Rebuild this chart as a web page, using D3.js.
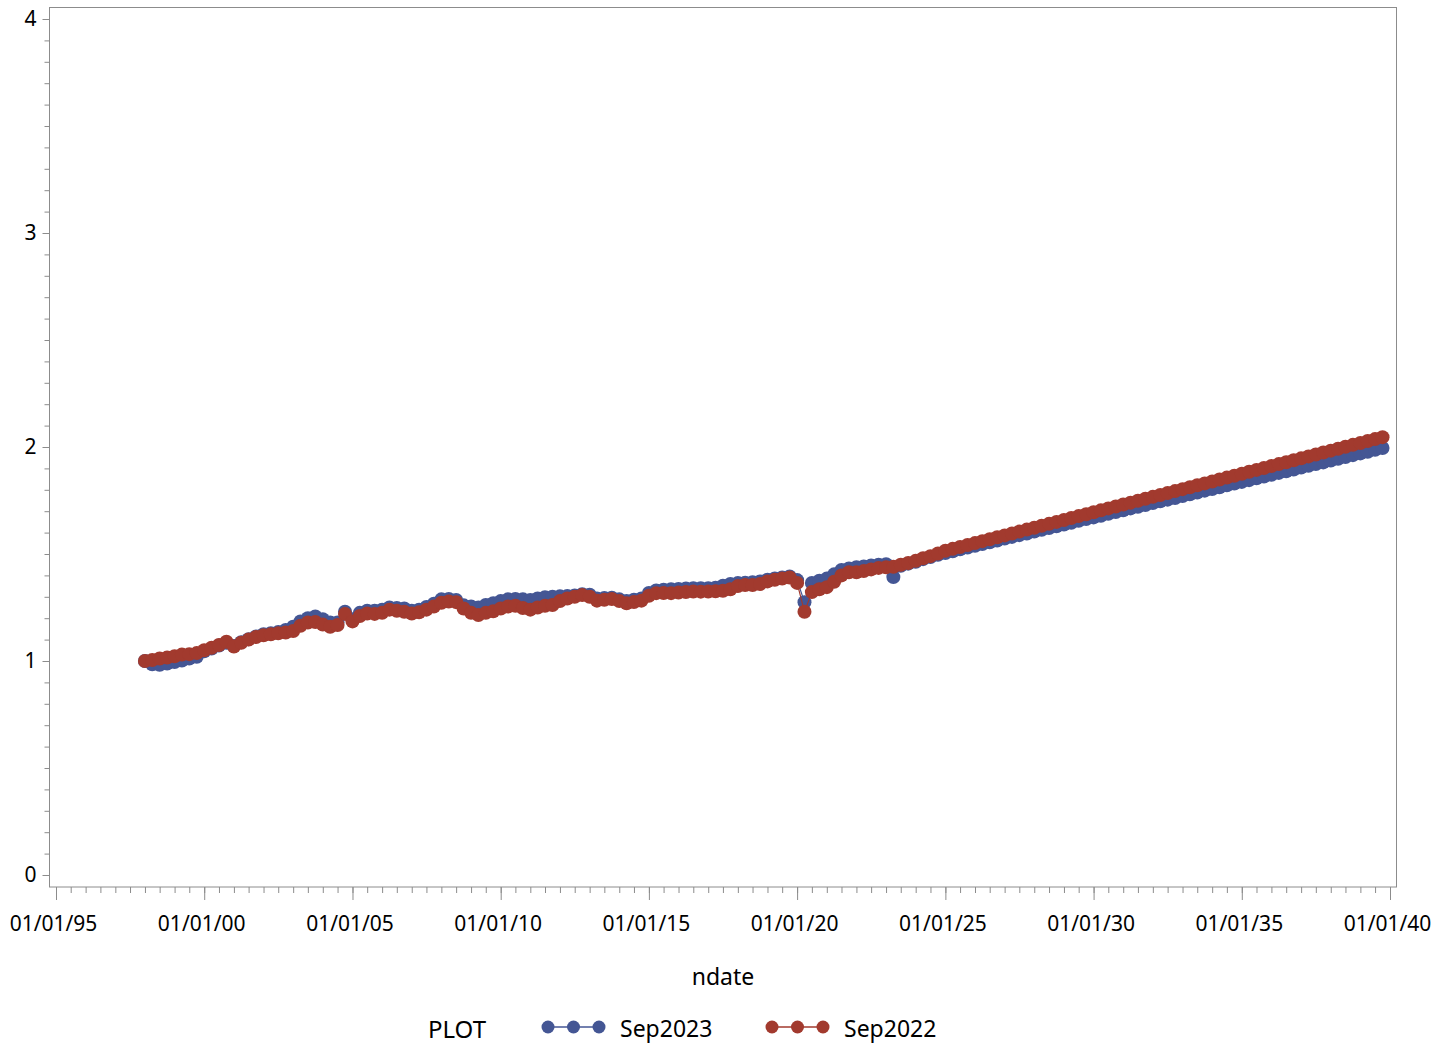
<!DOCTYPE html>
<html>
<head>
<meta charset="utf-8">
<script src="https://cdn.jsdelivr.net/npm/d3@7"></script>
<style>
  body { margin: 0; background: #fff; }
  svg { display: block; font-family: "Noto Sans", sans-serif; }
</style>
</head>
<body>
<svg></svg>
<script>
// size of the page
const width = 1451;
const height = 1048;

// quarterly dates, first quarter of 1998 to last quarter of 2039
const firstQuarter = new Date(1998, 0, 1);
const lastQuarter = new Date(2039, 9, 1);
const dates = d3.timeMonth.every(3).range(firstQuarter, d3.timeMonth.offset(lastQuarter, 1));

// series names and colours
const seriesNames = ["Sep2023", "Sep2022"];
const seriesColors = ["#445694", "#A23A2E"];

// Sep2023 values, one per quarter
const sep2023 = [
  1.000, 0.985, 0.982, 0.988, 0.995, 1.002, 1.012, 1.020,
  1.045, 1.058, 1.072, 1.085, 1.070, 1.088, 1.102, 1.115,
  1.125, 1.130, 1.135, 1.145, 1.160, 1.185, 1.200, 1.208,
  1.195, 1.180, 1.180, 1.230, 1.195, 1.225, 1.235, 1.235,
  1.240, 1.250, 1.248, 1.245, 1.235, 1.240, 1.252, 1.268,
  1.288, 1.290, 1.285, 1.260, 1.255, 1.250, 1.262, 1.270,
  1.280, 1.288, 1.290, 1.288, 1.285, 1.292, 1.298, 1.300,
  1.302, 1.304, 1.306, 1.312, 1.310, 1.292, 1.294, 1.296,
  1.288, 1.280, 1.286, 1.292, 1.318, 1.330, 1.333, 1.335,
  1.337, 1.339, 1.340, 1.340, 1.340, 1.342, 1.352, 1.360,
  1.364, 1.366, 1.368, 1.372, 1.380, 1.386, 1.390, 1.395,
  1.378, 1.275, 1.365, 1.375, 1.385, 1.405, 1.425, 1.432,
  1.438, 1.442, 1.446, 1.450, 1.452, 1.392, 1.445, 1.455,
  1.464, 1.476, 1.486, 1.496, 1.505, 1.513, 1.522, 1.530,
  1.538, 1.547, 1.555, 1.563, 1.572, 1.580, 1.588, 1.596,
  1.605, 1.613, 1.621, 1.630, 1.638, 1.646, 1.655, 1.663,
  1.671, 1.679, 1.688, 1.696, 1.704, 1.713, 1.721, 1.729,
  1.738, 1.746, 1.754, 1.762, 1.771, 1.779, 1.787, 1.796,
  1.804, 1.812, 1.821, 1.829, 1.837, 1.845, 1.854, 1.862,
  1.870, 1.879, 1.887, 1.895, 1.904, 1.912, 1.920, 1.928,
  1.937, 1.945, 1.953, 1.962, 1.970, 1.978, 1.987, 1.995
];

// Sep2022 values, one per quarter
const sep2022 = [
  1.000, 1.005, 1.012, 1.016, 1.022, 1.030, 1.032, 1.037,
  1.050, 1.062, 1.075, 1.090, 1.068, 1.085, 1.100, 1.112,
  1.120, 1.125, 1.130, 1.133, 1.140, 1.165, 1.180, 1.182,
  1.170, 1.160, 1.168, 1.220, 1.185, 1.210, 1.222, 1.220,
  1.225, 1.240, 1.235, 1.230, 1.222, 1.228, 1.240, 1.255,
  1.272, 1.278, 1.275, 1.245, 1.225, 1.215, 1.225, 1.232,
  1.245, 1.255, 1.258, 1.248, 1.240, 1.250, 1.258, 1.262,
  1.280, 1.292, 1.300, 1.308, 1.300, 1.282, 1.286, 1.290,
  1.280, 1.270, 1.276, 1.282, 1.305, 1.317, 1.318, 1.317,
  1.320, 1.322, 1.325, 1.324, 1.325, 1.326, 1.328, 1.335,
  1.350, 1.355, 1.355, 1.360, 1.372, 1.380, 1.385, 1.390,
  1.365, 1.230, 1.322, 1.335, 1.345, 1.370, 1.400, 1.415,
  1.415, 1.420, 1.428, 1.435, 1.438, 1.440, 1.450, 1.458,
  1.468, 1.480, 1.490, 1.502, 1.515, 1.524, 1.533, 1.542,
  1.551, 1.560, 1.569, 1.578, 1.587, 1.596, 1.605, 1.614,
  1.623, 1.632, 1.641, 1.650, 1.659, 1.668, 1.677, 1.686,
  1.695, 1.704, 1.713, 1.722, 1.731, 1.740, 1.749, 1.758,
  1.767, 1.776, 1.785, 1.794, 1.803, 1.812, 1.821, 1.830,
  1.839, 1.848, 1.857, 1.866, 1.875, 1.884, 1.893, 1.902,
  1.911, 1.920, 1.929, 1.938, 1.947, 1.956, 1.965, 1.974,
  1.983, 1.992, 2.001, 2.010, 2.019, 2.028, 2.037, 2.046
];

// y tick values
const yTicks = [0, 1, 2, 3, 4];

// frame of the plot area
const frame = { left: 49.5, right: 1396.5, top: 7.5, bottom: 887 };
const markerR = 7;
const axisColor = "#8c8c8c";

const svg = d3.select("svg")
  .attr("width", width)
  .attr("height", height);

// scales
const x = d3.scaleTime()
  .domain([new Date(1995, 0, 1), new Date(2040, 0, 1)])
  .range([56, 1390]);

const y = d3.scaleLinear()
  .domain([0, 4])
  .range([875, 19]);

// frame box
svg.append("rect")
  .attr("x", frame.left)
  .attr("y", frame.top)
  .attr("width", frame.right - frame.left)
  .attr("height", frame.bottom - frame.top)
  .attr("fill", "none")
  .attr("stroke", axisColor)
  .attr("stroke-width", 1);

// x axis: minor ticks every half year, major every 5 years
const xMinor = d3.axisBottom(x)
  .ticks(d3.timeMonth.every(6))
  .tickSize(6)
  .tickFormat("");
const xMajor = d3.axisBottom(x)
  .ticks(d3.timeYear.every(5))
  .tickSize(13)
  .tickPadding(16)
  .tickFormat(d3.timeFormat("%m/%d/%y"));

svg.append("g").attr("transform", `translate(0,${frame.bottom})`).call(xMinor);
svg.append("g").attr("class", "labels xl").attr("transform", `translate(0,${frame.bottom})`).call(xMajor);

// y axis: minor ticks every 0.1
const yMinor = d3.axisLeft(y)
  .ticks(40)
  .tickSize(5)
  .tickFormat("");
const yMajor = d3.axisLeft(y)
  .tickValues(yTicks)
  .tickSize(7)
  .tickPadding(6)
  .tickFormat(d3.format("d"));

svg.append("g").attr("transform", `translate(${frame.left},0)`).call(yMinor);
svg.append("g").attr("class", "labels").attr("transform", `translate(${frame.left},0)`).call(yMajor);

svg.selectAll(".domain").remove();
svg.selectAll(".tick line").attr("stroke", axisColor);
svg.selectAll(".labels text")
  .attr("fill", "#000")
  .style("font-size", "21px")
  .style("font-family", "'Noto Sans', sans-serif");
svg.selectAll(".xl text").attr("dx", -3);

// x axis label
svg.append("text")
  .attr("x", (frame.left + frame.right) / 2)
  .attr("y", 985)
  .attr("text-anchor", "middle")
  .style("font-size", "23px")
  .text("ndate");

// series: blue first, red on top
const series = [sep2023, sep2022];
const line = d3.line()
  .x((d, i) => x(dates[i]))
  .y(d => y(d));

const plot = svg.append("g");
series.forEach((vals, k) => {
  const g = plot.append("g");
  g.append("path")
    .attr("d", line(vals))
    .attr("fill", "none")
    .attr("stroke", seriesColors[k])
    .attr("stroke-width", 1.2);
  g.selectAll("circle")
    .data(vals)
    .join("circle")
    .attr("cx", (d, i) => x(dates[i]))
    .attr("cy", d => y(d))
    .attr("r", markerR)
    .attr("fill", seriesColors[k]);
});

// legend
const legend = svg.append("g").attr("transform", "translate(0,1027)");
legend.append("text")
  .attr("x", 428)
  .attr("y", 11)
  .style("font-size", "24px")
  .text("PLOT");

const legendX = [548, 772];
seriesNames.forEach((name, k) => {
  const lx = legendX[k];
  legend.append("line")
    .attr("x1", lx).attr("x2", lx + 51)
    .attr("stroke", seriesColors[k])
    .attr("stroke-width", 1.5);
  legend.selectAll(null)
    .data([0, 25.5, 51])
    .join("circle")
    .attr("cx", d => lx + d)
    .attr("cy", 0)
    .attr("r", 6.5)
    .attr("fill", seriesColors[k]);
  legend.append("text")
    .attr("x", lx + 72)
    .attr("y", 10)
    .style("font-size", "23px")
    .text(name);
});
</script>
</body>
</html>
